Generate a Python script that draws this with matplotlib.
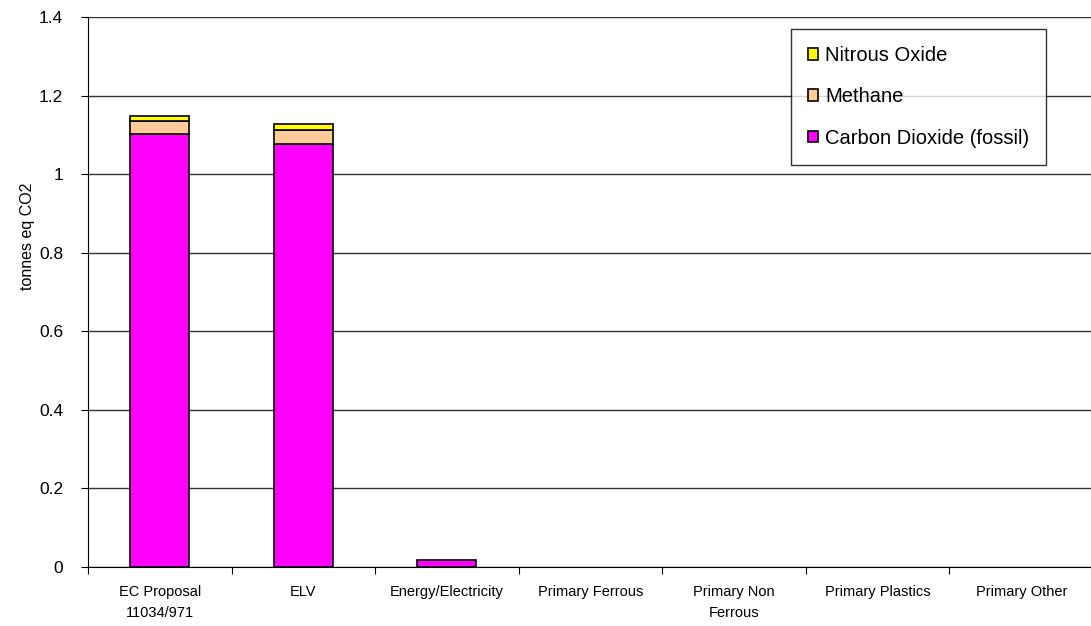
import matplotlib
matplotlib.use("Agg")
import matplotlib.pyplot as plt
import numpy as np

plt.rcParams['font.family'] = ['Liberation Sans', 'DejaVu Sans']

categories = ["EC Proposal\n11034/971", "ELV", "Energy/Electricity", "Primary Ferrous",
              "Primary Non\nFerrous", "Primary Plastics", "Primary Other"]
co2_fossil = [1.101, 1.078, 0.019, 0.0, 0.0, 0.0, 0.0]
methane = [0.034, 0.034, 0.0, 0.0, 0.0, 0.0, 0.0]
nitrous_oxide = [0.013, 0.015, 0.0, 0.0, 0.0, 0.0, 0.0]

fig = plt.figure(figsize=(10.91, 6.26), dpi=100)
ax = fig.add_axes([88/1091, 1-567/626, (1093-88)/1091, 550/626])

x = np.arange(len(categories))
w = 0.41
co2 = np.array(co2_fossil)
ch4 = np.array(methane)
n2o = np.array(nitrous_oxide)

b1 = ax.bar(x, co2, w, color='#FF00FF', edgecolor='black', linewidth=1.2, zorder=3,
            label='Carbon Dioxide (fossil)')
b2 = ax.bar(x, ch4, w, bottom=co2, color='#FFCC99', edgecolor='black', linewidth=1.2,
            zorder=3, label='Methane')
b3 = ax.bar(x, n2o, w, bottom=co2 + ch4, color='#FFFF00', edgecolor='black', linewidth=1.2,
            zorder=3, label='Nitrous Oxide')
# hide zero-height segments
for bars in (b1, b2, b3):
    for r in bars:
        if r.get_height() == 0:
            r.set_visible(False)

ax.set_xlim(-0.5, len(categories) - 0.5)
ax.set_ylim(0, 1.4)
ax.set_yticks(np.arange(0, 1.41, 0.2))
ax.set_yticklabels(["0", "0.2", "0.4", "0.6", "0.8", "1", "1.2", "1.4"], fontsize=12.5)
ax.yaxis.grid(True, color='#333333', linewidth=1.0, zorder=0)
ax.set_axisbelow(True)

ax.set_xticks(np.arange(-0.5, len(categories) + 0.5, 1.0))
ax.set_xticklabels([])
ax.set_xticks(x, minor=True)
ax.set_xticklabels(categories, minor=True, fontsize=10.5, linespacing=1.6)
ax.tick_params(axis='x', which='minor', length=0, pad=13)
ax.tick_params(axis='x', which='major', length=5, direction='out', color='black')
ax.tick_params(axis='y', length=5, direction='out', pad=13)

for s in ('top', 'right'):
    ax.spines[s].set_visible(False)
ax.spines['left'].set_color('black')
ax.spines['bottom'].set_color('black')

ax.set_ylabel("tonnes eq CO2", fontsize=11.5)
ax.yaxis.set_label_coords(-0.0527, 0.602)

leg = ax.legend(handles=[b3, b2, b1], loc='upper left', bbox_to_anchor=(0.6995, 0.978),
                fontsize=14.5, frameon=True, fancybox=False, edgecolor='black',
                handlelength=0.5, handleheight=0.5, handletextpad=0.35,
                labelspacing=1.1, borderpad=0.85, borderaxespad=0)
leg.get_frame().set_linewidth(1.0)
leg.set_zorder(5)

fig.savefig("out.png", dpi=100)
